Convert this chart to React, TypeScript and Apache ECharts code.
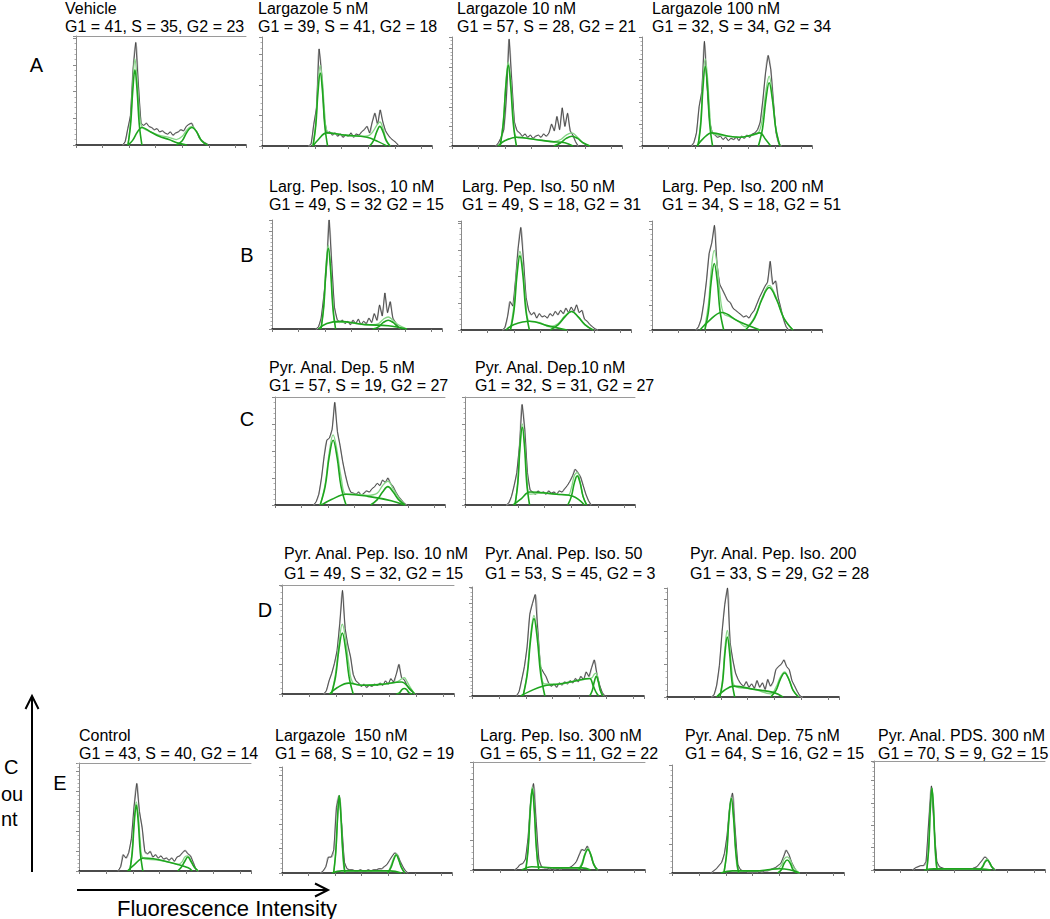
import React, { useEffect, useRef } from "react";
import * as echarts from "echarts";

const FONT = '"Liberation Sans", Arial, sans-serif';

// ---- titles ----
const TITLE_1 = [
  "Vehicle", "Largazole 5 nM", "Largazole 10 nM", "Largazole 100 nM",
  "Larg. Pep. Isos., 10 nM", "Larg. Pep. Iso. 50 nM", "Larg. Pep. Iso. 200 nM",
  "Pyr. Anal. Dep. 5 nM", "Pyr. Anal. Dep.10 nM",
  "Pyr. Anal. Pep. Iso. 10 nM", "Pyr. Anal. Pep. Iso. 50", "Pyr. Anal. Pep. Iso. 200",
  "Control", "Largazole  150 nM", "Larg. Pep. Iso. 300 nM", "Pyr. Anal. Dep. 75 nM", "Pyr. Anal. PDS. 300 nM",
];
const TITLE_2 = [
  "G1 = 41, S = 35, G2 = 23", "G1 = 39, S = 41, G2 = 18", "G1 = 57, S = 28, G2 = 21", "G1 = 32, S = 34, G2 = 34",
  "G1 = 49, S = 32 G2 = 15", "G1 = 49, S = 18, G2 = 31", "G1 = 34, S = 18, G2 = 51",
  "G1 = 57, S = 19, G2 = 27", "G1 = 32, S = 31, G2 = 27",
  "G1 = 49, S = 32, G2 = 15", "G1 = 53, S = 45, G2 = 3", "G1 = 33, S = 29, G2 = 28",
  "G1 = 43, S = 40, G2 = 14", "G1 = 68, S = 10, G2 = 19", "G1 = 65, S = 11, G2 = 22", "G1 = 64, S = 16, G2 = 15", "G1 = 70, S = 9, G2 = 15",
];
const ROW_LETTERS = ["A", "B", "C", "D", "E"];

// ---- raw histograms (first bin index, counts as % of panel height; bin = 16 channels) ----
const RAW_START = [18, 18, 17, 19, 17, 16, 17, 15, 16, 16, 17, 17, 15, 15, 16, 15, 15];
const A1_RAW = [3,15,27,70,94,55,20,18,20,17,16,14,15,12,13,11,10,12,9,11,12,14,13,17,19,20,15,12,6,4,2,1];
const A2_RAW = [2,20,35,89,65,25,12,13,10,12,9,11,8,10,9,12,8,11,10,13,15,18,12,22,30,20,33,22,14,10,7,5,3,0];
const A3_RAW = [3,8,15,45,98,60,22,14,12,9,11,8,10,7,9,10,8,11,9,12,20,14,27,15,35,18,30,14,10,4,0];
const A4_RAW = [3,12,36,50,96,55,22,12,10,8,9,6,8,5,7,6,8,5,9,7,10,8,11,12,15,22,42,67,83,70,40,12,2,0];
const B1_RAW = [2,10,30,55,100,60,20,9,6,8,5,7,4,8,5,9,4,7,5,10,6,14,8,22,12,33,15,25,10,6,2,0];
const B2_RAW = [2,12,26,22,45,75,94,65,30,18,14,16,11,15,12,13,11,15,13,17,14,18,15,20,16,21,17,23,16,18,10,8,5,3,1,0];
const B3_RAW = [3,10,25,45,70,80,96,60,42,37,32,27,25,20,18,16,14,12,13,11,15,18,24,30,35,40,44,63,42,45,30,20,10,3,0];
const C1_RAW = [3,10,25,45,60,62,70,95,68,55,40,28,18,12,11,10,12,9,11,13,12,15,17,20,18,23,21,25,20,17,12,8,5,2,0];
const C2_RAW = [2,8,18,30,55,93,70,30,14,12,10,13,11,12,10,13,11,12,10,13,12,15,18,22,27,33,30,26,18,10,4,0];
const D1_RAW = [3,12,19,28,40,65,95,60,45,34,18,12,10,7,9,6,8,7,9,8,10,8,12,9,14,11,18,27,15,13,8,4,2,0];
const D2_RAW = [4,15,27,45,75,85,93,60,27,22,18,12,9,11,8,12,10,13,11,14,12,16,13,18,15,22,18,26,33,20,10,3,0];
const D3_RAW = [2,11,29,60,85,100,50,34,22,16,12,10,14,9,12,8,15,9,13,7,16,10,14,25,28,30,34,28,25,15,10,5,1,0];
const E1_RAW = [4,15,12,17,30,60,81,55,40,18,16,18,13,15,12,14,11,12,10,12,9,13,14,17,19,16,14,8,2,0];
const E2_RAW = [2,6,15,15,22,62,73,45,10,4,3,3,2,2,3,2,2,3,2,3,3,4,4,6,8,12,16,19,17,11,6,2,0];
const E3_RAW = [2,5,6,10,30,65,80,45,10,3,2,2,1,2,1,2,1,2,2,2,3,5,8,14,19,18,22,16,8,3,0];
const E4_RAW = [2,4,7,10,18,35,62,74,40,8,3,2,2,1,1,1,1,2,1,2,2,3,4,5,7,9,15,21,17,10,5,1,0];
const E5_RAW = [2,3,4,4,8,45,77,40,8,3,2,1,1,1,1,1,1,1,1,1,1,1,2,3,6,9,12,10,5,2,0];
const RAWS = [A1_RAW, A2_RAW, A3_RAW, A4_RAW, B1_RAW, B2_RAW, B3_RAW, C1_RAW, C2_RAW, D1_RAW, D2_RAW, D3_RAW, E1_RAW, E2_RAW, E3_RAW, E4_RAW, E5_RAW];

// ---- fitted components [channel, value] ----
const G1 = [
  [[313,0],[329,19],[342,50],[355,69],[368,50],[381,19],[397,0]],
  [[307,0],[324,19],[337,49],[351,67],[365,49],[378,19],[395,0]],
  [[290,0],[309,21],[324,54],[339,74],[354,54],[369,21],[388,0]],
  [[337,0],[354,20],[367,53],[381,73],[395,53],[408,20],[425,0]],
  [[295,0],[312,21],[325,54],[339,74],[353,54],[366,21],[383,0]],
  [[298,0],[320,19],[337,50],[355,68],[373,50],[390,19],[412,0]],
  [[318,0],[340,17],[357,45],[375,61],[393,45],[410,17],[432,0]],
  [[272,0],[302,17],[326,44],[350,60],[374,44],[398,17],[428,0]],
  [[301,0],[318,20],[331,53],[345,72],[359,53],[372,20],[389,0]],
  [[294,0],[319,16],[339,41],[359,56],[379,41],[399,16],[424,0]],
  [[304,0],[329,20],[349,52],[369,71],[389,52],[409,20],[434,0]],
  [[315,0],[332,15],[345,40],[359,55],[373,40],[386,15],[403,0]],
  [[302,0],[317,17],[329,45],[341,61],[353,45],[365,17],[380,0]],
  [[311,0],[324,20],[335,53],[345,73],[355,53],[366,20],[379,0]],
  [[314,0],[329,21],[341,55],[353,75],[365,55],[377,21],[392,0]],
  [[309,0],[326,19],[339,50],[353,69],[367,50],[380,19],[397,0]],
  [[316,0],[328,21],[337,55],[347,75],[357,55],[366,21],[378,0]],
];
const S_PHASE = [
  [[313,0],[340,4],[370,12],[397,16],[450,12],[500,8],[560,5],[608,2],[668,0]],
  [[307,0],[340,6],[390,12],[500,10],[632,8],[700,4],[752,0]],
  [[277,0],[320,5],[391,8],[500,6],[600,4],[680,3],[728,0]],
  [[331,0],[370,7],[421,12],[520,9],[590,8],[660,10],[710,12],[745,6],[775,0]],
  [[279,0],[330,5],[409,7],[560,4],[700,3],[813,0]],
  [[271,0],[320,5],[415,8],[520,4],[638,0]],
  [[289,0],[340,8],[420,16],[520,8],[600,3],[650,0]],
  [[280,0],[340,5],[430,10],[560,8],[700,4],[780,0]],
  [[290,0],[340,6],[390,12],[550,10],[650,8],[720,0]],
  [[283,0],[330,6],[397,10],[480,8],[600,9],[710,11],[760,5],[790,0]],
  [[289,0],[340,4],[420,9],[520,11],[620,14],[700,16],[720,10],[740,3],[755,0]],
  [[295,0],[340,6],[397,10],[520,7],[638,4],[690,0]],
  [[289,0],[330,6],[387,12],[566,7],[650,3],[674,0]],
  [[300,0],[360,2],[500,2],[650,2],[720,0]],
  [[290,0],[350,3],[500,2],[650,2],[700,0]],
  [[290,0],[360,2],[500,2],[640,4],[700,3],[760,0]],
  [[300,0],[360,1],[600,1],[700,0]],
];
const G2 = [
  [[604,0],[640,4],[669,12],[698,16],[727,12],[756,4],[792,0]],
  [[648,0],[672,5],[691,13],[710,18],[729,13],[748,5],[772,0]],
  [[613,0],[655,3],[688,7],[722,9],[756,7],[789,3],[831,0]],
  [[701,0],[726,16],[746,42],[766,58],[786,42],[806,16],[831,0]],
  [[606,0],[642,2],[671,6],[700,8],[729,6],[758,2],[794,0]],
  [[536,0],[586,5],[626,12],[666,17],[706,12],[746,5],[796,0]],
  [[563,0],[618,11],[662,28],[706,39],[750,28],[794,11],[849,0]],
  [[576,0],[616,5],[648,12],[680,17],[712,12],[744,5],[784,0]],
  [[619,0],[641,8],[658,20],[676,27],[694,20],[711,8],[733,0]],
  [[681,0],[699,1],[714,4],[728,5],[742,4],[757,1],[775,0]],
  [[701,0],[716,5],[728,13],[740,18],[752,13],[764,5],[779,0]],
  [[617,0],[649,6],[674,16],[700,22],[726,16],[751,6],[783,0]],
  [[588,0],[611,4],[630,9],[648,13],[666,9],[685,4],[708,0]],
  [[636,0],[656,5],[672,12],[688,17],[704,12],[720,5],[740,0]],
  [[627,0],[649,5],[666,14],[684,19],[702,14],[719,5],[741,0]],
  [[629,0],[651,3],[668,9],[686,12],[704,9],[721,3],[743,0]],
  [[634,0],[651,3],[664,7],[678,9],[692,7],[705,3],[722,0]],
];
const FIT = [
  [[313,0],[329,22],[342,56],[355,79],[368,60],[381,32],[397,17],[450,12],[500,9],[560,7],[604,5],[640,8],[669,14],[698,17],[727,12],[756,4],[792,0]],
  [[307,0],[324,21],[337,55],[351,74],[365,58],[378,29],[395,13],[450,11],[550,9],[620,9],[648,10],[672,14],[691,19],[710,22],[729,16],[748,6],[772,0]],
  [[290,0],[309,23],[324,57],[339,77],[354,60],[369,28],[388,8],[450,7],[550,5],[613,4],[655,6],[688,10],[722,12],[756,8],[789,3],[831,0]],
  [[337,0],[354,24],[367,59],[381,80],[395,62],[408,31],[425,12],[520,9],[590,8],[660,10],[701,12],[726,26],[746,50],[766,64],[786,44],[806,16],[831,0]],
  [[295,0],[312,22],[325,57],[339,77],[353,58],[366,26],[383,6],[450,6],[560,4],[606,4],[642,5],[671,9],[700,11],[729,8],[758,4],[813,0]],
  [[298,2],[320,24],[337,55],[355,72],[373,56],[390,26],[412,8],[470,7],[536,3],[586,6],[626,13],[666,17],[706,12],[746,5],[796,0]],
  [[318,3],[340,24],[357,55],[375,73],[393,59],[410,32],[432,15],[470,12],[520,8],[563,3],[618,12],[662,29],[706,41],[750,29],[794,11],[849,0]],
  [[272,0],[302,19],[326,48],[350,65],[374,50],[398,26],[428,10],[480,10],[560,9],[616,11],[648,18],[680,22],[712,15],[744,7],[784,0]],
  [[301,0],[318,22],[331,56],[345,75],[359,58],[372,28],[389,10],[470,11],[550,10],[619,9],[641,16],[658,27],[676,30],[694,21],[711,8],[733,0]],
  [[294,0],[319,19],[339,46],[359,64],[379,50],[399,26],[424,10],[480,8],[600,9],[681,11],[714,14],[728,15],[742,12],[760,7],[790,0]],
  [[304,0],[329,22],[349,55],[369,74],[389,57],[409,28],[434,11],[520,11],[620,14],[700,16],[716,17],[728,20],[740,21],[752,14],[764,5],[779,0]],
  [[315,0],[332,18],[345,45],[359,61],[373,48],[386,24],[403,10],[520,7],[617,3],[649,9],[674,18],[700,23],[726,16],[751,6],[783,0]],
  [[302,0],[317,19],[329,48],[341,64],[353,52],[365,27],[380,12],[470,10],[566,7],[588,6],[611,8],[630,13],[648,14],[666,10],[685,4],[708,0]],
  [[311,0],[324,20],[335,53],[345,73],[355,54],[366,21],[379,2],[500,2],[636,2],[656,7],[672,14],[688,18],[704,12],[720,5],[740,0]],
  [[314,0],[329,22],[341,57],[353,77],[365,57],[377,23],[392,3],[500,2],[627,2],[649,7],[666,15],[684,20],[702,14],[719,5],[741,0]],
  [[309,0],[326,20],[339,51],[353,70],[367,51],[380,20],[397,2],[500,2],[629,4],[651,7],[668,13],[686,15],[704,12],[721,6],[743,2],[760,0]],
  [[316,0],[328,21],[337,55],[347,75],[357,55],[366,21],[378,1],[600,1],[634,1],[651,4],[664,8],[678,10],[692,7],[705,3],[722,0]],
];
const Y_TICK = [24.5, 28, 18, 20, 18, 24.5, 23, 25, 25, 27.5, 17, 30, 18.5, 23, 28, 26.5, 20.5];

// ---- layout (pixels) ----
const GRID_LEFT = [76, 262, 452, 642, 272, 461, 652, 275, 465, 282, 472, 667, 79, 282, 473, 672, 874];
const GRID_TOP = [36, 37, 37, 37, 220, 221, 221, 397, 397, 585, 587, 588, 763, 767, 762, 765, 761];
const GRID_W = [170, 170, 170, 170, 170, 170, 170, 170, 170, 172, 172, 172, 172, 170, 172, 172, 171];
const GRID_H = [109, 109, 109, 109, 109, 109, 109, 108, 108, 109, 109, 109, 108, 106, 108, 108, 109];
const BOXED = [1, 0, 0, 0, 0, 0, 0, 1, 1, 1, 0, 0, 1, 0, 1, 0, 1];
const TITLE_LEFT = [65, 258, 457, 652, 269, 462, 662, 269, 475, 284, 485, 690, 79, 275, 480, 685, 878];
const ROW_OF = [0, 0, 0, 0, 1, 1, 1, 2, 2, 3, 3, 3, 4, 4, 4, 4, 4];
const ROW_TITLE_TOP = [-1, 177, 358.5, 544, 726.5];
const ROW_TITLE_LH = [18, 18, 18, 19.5, 18];
const LETTER_POS = [[36.5, 65], [247, 255], [247, 419], [265, 610], [60, 783]];

const GREEN = "#1ea51e";
const LIGHT_GREEN = "#86d586";

export default function App() {
  const ref = useRef<HTMLDivElement>(null);
  useEffect(() => {
    if (!ref.current) return;
    const chart = echarts.init(ref.current, undefined, { renderer: "svg" });
    const n = TITLE_1.length;
    const grid: any[] = [];
    const xAxis: any[] = [];
    const yAxis: any[] = [];
    const series: any[] = [];
    const title: any[] = [];
    for (let i = 0; i < n; i++) {
      grid.push({ left: GRID_LEFT[i], top: GRID_TOP[i], width: GRID_W[i], height: GRID_H[i], containLabel: false });
      xAxis.push({
        gridIndex: i, type: "value", min: 0, max: 1024, interval: 160,
        axisLine: { onZero: false, lineStyle: { color: "#111", width: 1.6 } },
        axisTick: { show: true, length: 3, lineStyle: { color: "#777", width: 1 } },
        axisLabel: { show: false }, splitLine: { show: false },
      });
      yAxis.push({
        gridIndex: i, type: "value", min: 0, max: 100, interval: Y_TICK[i],
        axisLine: { show: true, lineStyle: { color: "#8a8a8a", width: 1 } },
        axisTick: { show: true, length: 3, lineStyle: { color: "#8a8a8a" } },
        minorTick: { show: true, splitNumber: 5, length: 1.5, lineStyle: { color: "#b0b0b0" } },
        axisLabel: { show: false }, splitLine: { show: false },
      });
      const row = ROW_OF[i];
      title.push({
        text: TITLE_1[i] + "\n" + TITLE_2[i],
        left: TITLE_LEFT[i], top: ROW_TITLE_TOP[row], padding: 0,
        textStyle: { fontFamily: FONT, fontSize: 16, fontWeight: "normal", color: "#000", lineHeight: ROW_TITLE_LH[row] },
      });
      const raw = RAWS[i].map((v, k) => [(RAW_START[i] + k) * 16 + 8, v]);
      raw.unshift([(RAW_START[i] - 1) * 16 + 8, 0]);
      series.push({
        type: "line", xAxisIndex: i, yAxisIndex: i, data: raw, showSymbol: false, smooth: 0.5,
        lineStyle: { color: "#b5b5b5", width: 1.4 }, silent: true, z: 1,
      });
      series.push({
        type: "line", xAxisIndex: i, yAxisIndex: i, data: raw, showSymbol: false,
        lineStyle: { color: "#3a3a3a", width: 0.8 }, silent: true, z: 2,
      });
      series.push({
        type: "line", xAxisIndex: i, yAxisIndex: i, data: FIT[i], showSymbol: false, smooth: 0.4,
        lineStyle: { color: LIGHT_GREEN, width: 1.3 }, silent: true, z: 3,
      });
      [G1[i], S_PHASE[i], G2[i]].forEach((d) => {
        series.push({
          type: "line", xAxisIndex: i, yAxisIndex: i, data: d, showSymbol: false, smooth: 0.4,
          lineStyle: { color: GREEN, width: 1.6 }, silent: true, z: 4,
        });
      });
    }
    // top border lines for boxed panels
    for (let i = 0; i < n; i++) {
      if (!BOXED[i]) continue;
      xAxis.push({
        gridIndex: i, type: "value", min: 0, max: 1024, position: "top",
        axisLine: { show: true, onZero: false, lineStyle: { color: "#9a9a9a", width: 1 } },
        axisTick: { show: false }, axisLabel: { show: false }, splitLine: { show: false },
      });
    }

    const graphic: any[] = [];
    ROW_LETTERS.forEach((L, k) => {
      graphic.push({
        type: "text", x: LETTER_POS[k][0], y: LETTER_POS[k][1],
        style: { text: L, fontFamily: FONT, fontSize: 20, fill: "#000", align: "center", verticalAlign: "middle" },
      });
    });
    // Count label
    [["C", 4, 767], ["ou", 1, 794], ["nt", 1, 819]].forEach(([t, x, y]) => {
      graphic.push({
        type: "text", x: x as number, y: y as number,
        style: { text: t as string, fontFamily: FONT, fontSize: 20, fill: "#000", align: "left", verticalAlign: "middle" },
      });
    });
    // arrows
    graphic.push({ type: "line", shape: { x1: 32, y1: 872, x2: 32, y2: 697 }, style: { stroke: "#000", lineWidth: 2 } });
    graphic.push({ type: "polyline", shape: { points: [[25.5, 709], [32, 696], [38.5, 709]] }, style: { stroke: "#000", lineWidth: 2, fill: null } });
    graphic.push({ type: "line", shape: { x1: 77, y1: 890, x2: 327, y2: 890 }, style: { stroke: "#000", lineWidth: 2 } });
    graphic.push({ type: "polyline", shape: { points: [[315, 883.5], [328, 890], [315, 896.5]] }, style: { stroke: "#000", lineWidth: 2, fill: null } });
    graphic.push({
      type: "text", x: 117, y: 908,
      style: { text: "Fluorescence Intensity", fontFamily: FONT, fontSize: 22, fill: "#000", align: "left", verticalAlign: "middle" },
    });

    chart.setOption({
      animation: false,
      backgroundColor: "#fff",
      title, grid, xAxis, yAxis, series, graphic,
    });
    return () => chart.dispose();
  }, []);
  return <div ref={ref} style={{ position: "fixed", left: 0, top: 0, width: 1050, height: 919 }} />;
}
